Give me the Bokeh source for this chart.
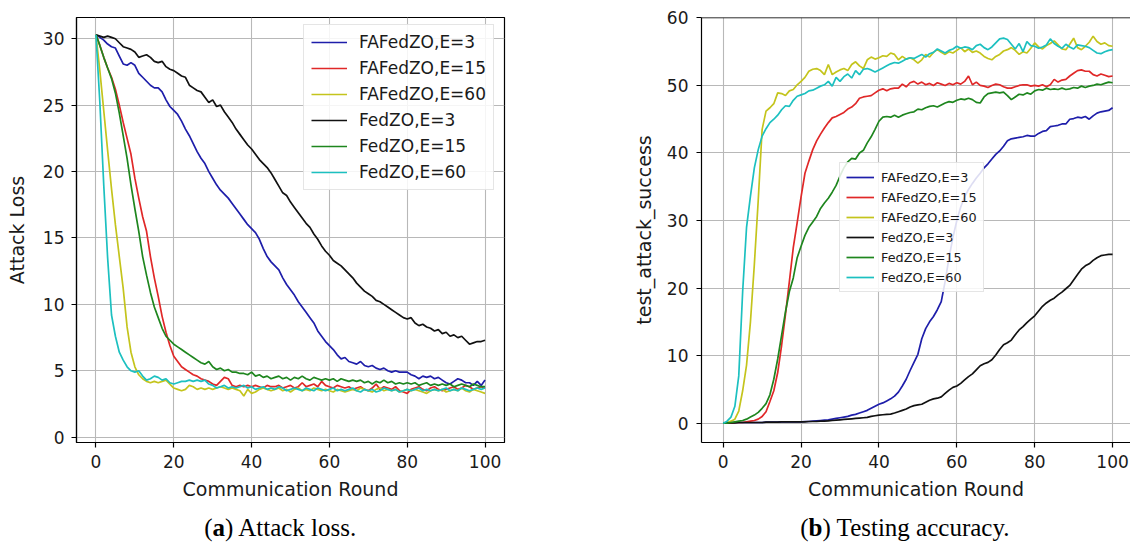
from bokeh.plotting import figure
from bokeh.layouts import row, column
from bokeh.models import Range1d, Label, Span, Legend
from bokeh.embed import file_html
from bokeh.resources import INLINE

rounds = list(range(101))

series_names = ["FAFedZO,E=3", "FAFedZO,E=15", "FAFedZO,E=60", "FedZO,E=3", "FedZO,E=15", "FedZO,E=60"]
series_colors = ["#1e1eaa", "#e02828", "#c4c41c", "#111111", "#1e861e", "#1cc0c0"]

# ---- (a) Attack loss ----
loss_fafedzo_e3 = [30.3, 30.1, 29.9, 29.6, 29.4, 29.3, 28.7, 28.1, 28.0, 28.2,
                   28.0, 27.4, 27.1, 26.8, 26.5, 26.3, 26.3, 26.0, 25.4, 24.9,
                   24.6, 24.3, 23.8, 23.2, 22.7, 22.1, 21.5, 21.0, 20.6, 20.0,
                   19.5, 19.0, 18.6, 18.3, 18.0, 17.6, 17.2, 16.8, 16.4, 16.0,
                   15.7, 15.4, 14.9, 14.2, 13.6, 13.2, 12.9, 12.6, 12.0, 11.5,
                   11.1, 10.7, 10.2, 9.8, 9.4, 9.0, 8.6, 8.0, 7.6, 7.2,
                   6.9, 6.6, 6.2, 5.9, 6.0, 5.7, 5.6, 5.5, 5.7, 5.4,
                   5.3, 5.4, 5.2, 5.1, 5.2, 5.0, 4.9, 5.0, 4.9, 4.9,
                   4.9, 4.7, 4.6, 4.4, 4.6, 4.5, 4.6, 4.4, 4.5, 4.3,
                   4.1, 4.0, 4.2, 4.4, 4.3, 4.1, 4.1, 3.9, 4.2, 3.9, 4.3]
loss_fafedzo_e15 = [30.3, 29.5, 28.6, 27.8, 27.1, 26.2, 25.0, 23.7, 22.5, 21.3,
                    19.5, 18.0, 16.6, 15.5, 13.6, 12.0, 10.6, 9.1, 7.9, 6.9,
                    6.1, 5.7, 5.3, 5.1, 4.9, 4.7, 4.6, 4.4, 4.3, 4.2,
                    4.0, 3.9, 4.2, 4.5, 4.4, 3.9, 3.8, 3.9, 3.8, 3.9,
                    3.8, 3.9, 3.8, 3.7, 3.9, 3.8, 3.8, 3.9, 3.7, 3.8,
                    3.9, 3.7, 3.8, 4.1, 3.8, 3.9, 4.0, 3.8, 4.2, 3.9,
                    3.8, 3.7, 3.9, 3.8, 3.7, 3.8, 3.6, 3.7, 3.8, 3.6,
                    3.5, 3.7, 4.0, 3.6, 3.8, 3.7, 3.6, 3.8, 3.5, 3.4,
                    3.3, 3.6, 3.7, 3.8, 3.6, 3.5, 3.7, 3.8, 3.6, 3.5,
                    3.6, 3.7, 3.8, 3.6, 3.7, 3.9, 3.8, 3.6, 3.7, 3.8, 3.7]
loss_fafedzo_e60 = [30.3, 27.6, 24.6, 21.6, 18.7, 16.0, 13.6, 11.2, 8.3, 6.4,
                    5.3, 4.7, 4.4, 4.2, 4.1, 4.2, 4.1, 4.2, 4.3, 4.0,
                    3.7, 3.6, 3.5, 3.6, 3.9, 3.8, 3.6, 3.7, 3.6, 3.7,
                    3.6, 3.7, 3.8, 3.7, 3.6, 3.7, 3.6, 3.5, 3.1, 3.6,
                    3.3, 3.4, 3.6, 3.7, 3.6, 3.5, 3.6, 3.7, 3.5, 3.6,
                    3.4, 3.6, 3.7, 3.5, 3.6, 3.5, 3.7, 3.6, 3.5, 3.6,
                    3.5, 3.4, 3.6, 3.5, 3.4, 3.5, 3.6, 3.5, 3.7, 3.6,
                    3.5, 3.4, 3.6, 3.7, 3.5, 3.6, 3.5, 3.6, 3.4, 3.5,
                    3.6, 3.5, 3.6, 3.5, 3.4, 3.3, 3.5, 3.6, 3.5, 3.6,
                    3.4, 3.5, 3.6, 3.5, 3.7, 3.5, 3.4, 3.6, 3.5, 3.4, 3.3]
loss_fedzo_e3 = [30.3, 30.2, 30.1, 30.2, 30.1, 30.0, 29.7, 29.4, 29.3, 29.2,
                 29.0, 28.6, 28.7, 28.8, 28.6, 28.3, 28.2, 28.3, 27.9, 27.7,
                 27.6, 27.4, 27.2, 27.1, 26.5, 26.3, 26.1, 26.0, 25.6, 25.2,
                 25.4, 24.9, 25.0, 24.5, 24.1, 23.7, 23.2, 22.8, 22.4, 22.0,
                 21.7, 21.3, 20.9, 20.6, 20.3, 19.9, 19.4, 18.9, 18.4, 18.2,
                 17.7, 17.3, 16.9, 16.5, 16.1, 15.8, 15.3, 14.9, 14.4, 14.0,
                 13.7, 13.3, 13.1, 12.9, 12.6, 12.3, 12.0, 11.6, 11.3, 11.0,
                 10.8, 10.6, 10.3, 10.2, 10.0, 9.8, 9.6, 9.4, 9.2, 9.0,
                 8.9, 9.0, 8.6, 8.4, 8.5, 8.3, 8.2, 8.0, 8.1, 7.8,
                 7.9, 7.6, 7.7, 7.5, 7.6, 7.3, 7.0, 7.1, 7.2, 7.2, 7.3]
loss_fedzo_e15 = [30.3, 29.5, 28.6, 27.8, 27.0, 25.9, 24.4, 22.7, 21.0, 19.0,
                  17.2, 15.5, 13.6, 12.2, 10.9, 9.8, 9.0, 8.2, 7.6, 7.3,
                  7.0, 6.8, 6.6, 6.4, 6.2, 6.0, 5.8, 5.6, 5.5, 5.7,
                  5.3, 5.1, 5.2, 5.0, 5.1, 4.9, 4.9, 4.8, 4.8, 4.7,
                  4.9, 4.6, 4.7, 4.5, 4.6, 4.4, 4.5, 4.6, 4.4, 4.5,
                  4.3, 4.5, 4.4, 4.6, 4.4, 4.3, 4.5, 4.4, 4.3, 4.4,
                  4.3, 4.4, 4.2, 4.4, 4.3, 4.2, 4.3, 4.2, 4.3, 4.1,
                  4.2, 4.0, 4.2, 4.1, 4.3, 4.1, 4.2, 4.0, 4.1, 4.0,
                  4.1, 4.0, 4.1, 3.9, 4.0, 4.1, 3.9, 4.0, 3.9, 4.0,
                  3.9, 4.0, 3.8, 3.9, 4.0, 3.9, 3.8, 4.0, 3.9, 3.8, 3.8]
loss_fedzo_e60 = [30.3, 25.2, 19.0, 13.5, 9.2, 7.6, 6.4, 5.8, 5.3, 5.0,
                  4.9, 5.0, 4.6, 4.3, 4.4, 4.6, 4.5, 4.3, 4.4, 4.1,
                  4.0, 4.1, 4.2, 4.2, 4.3, 4.2, 4.3, 4.2, 4.3, 4.0,
                  3.9, 3.7, 3.8, 3.9, 3.7, 3.8, 3.7, 3.8, 3.9, 3.7,
                  3.8, 3.6, 3.7, 3.8, 3.6, 3.7, 3.6, 3.8, 3.7, 3.5,
                  3.6, 3.7, 3.6, 3.5, 3.7, 3.6, 3.5, 3.7, 3.6, 3.5,
                  3.6, 3.7, 3.5, 3.6, 3.5, 3.6, 3.7, 3.5, 3.4, 3.6,
                  3.5, 3.6, 3.4, 3.5, 3.7, 3.6, 3.5, 3.6, 3.4, 3.5,
                  3.6, 3.5, 3.6, 3.7, 3.5, 3.6, 3.5, 3.6, 3.5, 3.6,
                  3.7, 3.5, 3.6, 3.5, 3.7, 3.6, 3.5, 3.6, 3.7, 3.6, 3.7]

# ---- (b) Testing accuracy ----
acc_fafedzo_e3 = [0.0, 0.05, 0.1, 0.1, 0.1, 0.1, 0.1, 0.1, 0.1, 0.1,
                  0.1, 0.15, 0.15, 0.15, 0.15, 0.2, 0.2, 0.2, 0.2, 0.2,
                  0.2, 0.25, 0.25, 0.3, 0.35, 0.4, 0.45, 0.5, 0.6, 0.7,
                  0.8, 0.9, 1.0, 1.2, 1.3, 1.5, 1.7, 1.9, 2.2, 2.5,
                  2.8, 3.0, 3.3, 3.6, 4.0, 4.6, 5.5, 6.5, 7.8, 9.0,
                  10.2, 12.5, 14.0, 15.0, 15.8, 16.8, 18.0, 21.0, 24.5, 27.5,
                  30.0, 32.0, 33.5, 34.6, 35.5, 36.3, 37.0, 37.8, 38.4, 39.1,
                  39.8, 40.3, 41.0, 41.8, 42.1, 42.2, 42.3, 42.4, 42.6, 42.5,
                  42.5, 42.9, 43.2, 43.3, 43.9, 44.0, 44.1, 44.3, 44.3, 45.0,
                  45.1, 45.3, 45.2, 45.4, 45.0, 45.5, 45.9, 46.1, 46.2, 46.3, 46.7]
acc_fafedzo_e15 = [0.0, 0.0, 0.0, 0.1, 0.1, 0.1, 0.2, 0.3, 0.4, 0.6,
                   1.0, 1.7, 3.2, 4.8, 7.5, 11.5, 16.1, 21.0, 26.0, 29.7,
                   33.5, 37.0, 38.8, 40.5, 41.8, 42.8, 43.7, 44.5, 45.2, 45.4,
                   45.7, 46.0, 46.5, 46.8, 47.3, 48.1, 48.3, 48.4, 48.5, 48.9,
                   49.3, 49.5, 49.2, 49.5, 49.6, 49.6, 50.2, 49.8, 50.4, 50.6,
                   50.2, 50.5, 50.1, 50.3, 50.0, 50.4, 50.2, 50.0, 50.3, 50.1,
                   50.4, 50.2, 50.6, 51.4, 50.1, 50.5, 50.0, 49.9, 49.7, 50.0,
                   50.2, 50.1, 49.8, 49.6, 49.6, 49.8, 50.0, 50.1, 50.1, 49.9,
                   50.0, 49.9, 50.1, 49.8, 50.1, 50.9, 50.5, 50.8, 50.9, 51.4,
                   51.8, 52.2, 52.3, 52.1, 52.1, 51.6, 51.4, 51.7, 51.5, 51.3, 51.4]
acc_fafedzo_e60 = [0.0, 0.1, 0.3, 0.6, 1.8, 4.8, 8.6, 15.0, 23.5, 33.0,
                   43.5, 46.2, 46.7, 47.3, 48.9, 48.8, 48.5, 49.2, 49.4, 50.1,
                   50.6, 51.2, 52.1, 52.4, 52.5, 52.2, 51.6, 53.1, 51.6, 52.0,
                   52.3, 52.5, 52.2, 53.1, 53.5, 52.9, 52.5, 53.8, 54.2, 53.9,
                   54.1, 54.4, 54.3, 54.8, 54.6, 53.8, 54.3, 53.9, 54.1, 53.8,
                   53.3, 53.8, 54.6, 54.2, 54.9, 55.3, 54.9, 54.6, 55.0, 54.8,
                   55.2, 55.6, 55.0, 55.4, 54.9, 55.1, 54.8, 54.3, 54.0, 53.8,
                   54.3, 54.6, 55.1, 55.3, 55.6, 55.2, 54.6, 55.0, 54.8, 55.5,
                   56.3, 55.7, 55.4, 55.9, 56.2, 56.6, 56.0, 55.4, 55.3, 56.1,
                   57.0, 55.6, 55.3, 55.8, 56.4, 57.3, 56.5, 56.1, 56.3, 55.9, 55.8]
acc_fedzo_e3 = [0.0, 0.05, 0.05, 0.05, 0.1, 0.1, 0.1, 0.1, 0.1, 0.1,
                0.1, 0.15, 0.15, 0.15, 0.15, 0.2, 0.2, 0.2, 0.2, 0.2,
                0.2, 0.2, 0.25, 0.25, 0.25, 0.3, 0.3, 0.35, 0.4, 0.45,
                0.5, 0.55, 0.6, 0.65, 0.7, 0.75, 0.8, 0.85, 1.0, 1.1,
                1.2, 1.25, 1.3, 1.35, 1.5, 1.7, 1.9, 2.1, 2.4, 2.6,
                2.7, 2.8, 3.1, 3.4, 3.6, 3.7, 3.9, 4.4, 4.9, 5.3,
                5.5, 5.9, 6.4, 6.9, 7.3, 7.9, 8.5, 8.8, 9.0, 9.4,
                10.1, 10.9, 11.6, 11.9, 12.3, 13.1, 13.8, 14.3, 14.9, 15.4,
                15.9, 16.6, 17.3, 17.8, 18.2, 18.5, 19.0, 19.4, 19.9, 20.4,
                21.2, 22.0, 22.8, 23.3, 23.6, 24.1, 24.5, 24.8, 24.9, 25.0, 25.0]
acc_fedzo_e15 = [0.0, 0.0, 0.1, 0.2, 0.3, 0.4, 0.6, 0.9, 1.2, 1.6,
                 2.2, 2.9, 4.2, 6.5, 9.5, 13.0, 16.5, 19.5, 21.5, 24.5,
                 26.2, 27.8, 29.0, 29.8, 30.6, 31.8, 32.6, 33.3, 34.2, 35.2,
                 36.6, 37.8, 38.7, 39.2, 39.1, 40.0, 40.4, 41.5, 42.4, 43.5,
                 44.7, 45.3, 45.4, 45.3, 45.6, 45.3, 45.6, 45.8, 46.0, 46.1,
                 46.5, 46.4, 46.7, 46.9, 47.0, 46.8, 47.1, 47.4, 47.6, 47.5,
                 47.8, 48.0, 47.9, 48.1, 47.9, 47.5, 47.4, 48.3, 48.8, 48.9,
                 49.0, 48.9, 49.0, 48.5, 47.9, 48.3, 48.7, 48.6, 48.9, 48.7,
                 49.2, 49.4, 49.3, 49.6, 49.4, 49.5, 49.4, 49.6, 49.4, 49.5,
                 49.7, 49.6, 49.9, 49.7, 49.9, 50.0, 50.2, 50.1, 50.3, 50.5, 50.4]
acc_fedzo_e60 = [0.0, 0.3, 0.9, 2.5, 7.0, 19.5, 29.0, 33.6, 37.8, 40.5,
                 42.5, 43.6, 44.5, 45.0, 45.6, 46.4, 47.0, 46.9, 47.8, 48.4,
                 48.6, 48.8, 49.2, 49.3, 49.6, 49.9, 50.1, 50.6, 49.9, 51.2,
                 50.6, 51.3, 51.7, 51.1, 52.2, 51.6, 52.4, 52.5, 52.3, 52.0,
                 52.3, 52.6, 52.9, 53.2, 53.4, 53.3, 53.6, 53.9, 54.1, 54.0,
                 54.3, 54.6, 54.2, 54.7, 54.9, 55.4, 55.1, 54.8, 55.2, 55.4,
                 55.8, 55.5, 55.7, 55.6, 55.3, 55.9, 56.1, 55.6, 55.3, 55.7,
                 56.3, 56.9, 57.0, 56.8, 56.1, 55.4, 56.2, 55.0, 56.5, 55.9,
                 55.8, 55.5, 55.7, 56.0, 56.9, 56.2, 55.8, 55.5, 56.1, 55.7,
                 55.4, 56.0, 55.9, 55.8, 55.6, 55.2, 54.8, 54.7, 55.0, 55.2, 55.3]

loss_series = [loss_fafedzo_e3, loss_fafedzo_e15, loss_fafedzo_e60,
               loss_fedzo_e3, loss_fedzo_e15, loss_fedzo_e60]
acc_series = [acc_fafedzo_e3, acc_fafedzo_e15, acc_fafedzo_e60,
              acc_fedzo_e3, acc_fedzo_e15, acc_fedzo_e60]

x_ticks = [0, 20, 40, 60, 80, 100]
loss_ticks = [0, 5, 10, 15, 20, 25, 30]
acc_ticks = [0, 10, 20, 30, 40, 50, 60]

FONT = "DejaVu Sans"
SERIF = "Liberation Serif"
TXT = "#1a1a1a"


def style(p, ylabel, tick_standoff, label_standoff):
    p.xaxis.ticker = x_ticks
    p.xaxis.axis_label = "Communication Round"
    p.yaxis.axis_label = ylabel
    for ax in (p.xaxis, p.yaxis):
        ax.axis_label_text_font = FONT
        ax.axis_label_text_font_size = "19px"
        ax.axis_label_text_font_style = "normal"
        ax.axis_label_text_color = TXT
        ax.major_label_text_font = FONT
        ax.major_label_text_font_size = "17px"
        ax.major_label_text_color = TXT
        ax.major_tick_in = 0
        ax.major_tick_out = 5
        ax.minor_tick_in = 0
        ax.minor_tick_out = 0
        ax.axis_line_color = "black"
        ax.axis_line_width = 1.2
        ax.major_tick_line_color = "black"
        ax.major_tick_line_width = 1.2
    p.xaxis.major_label_standoff = 7
    p.xaxis.axis_label_standoff = 7
    p.yaxis.major_label_standoff = tick_standoff
    p.yaxis.axis_label_standoff = label_standoff
    p.grid.grid_line_color = "#b8b8b8"
    p.grid.grid_line_width = 1.1
    p.background_fill_color = "white"
    p.border_fill_color = "white"


def make_legend(p, renderers, loc, font_size, gw, gh, standoff, pad, spacing):
    leg = Legend(items=[(n, [r]) for n, r in zip(series_names, renderers)], location=loc)
    leg.label_text_font = FONT
    leg.label_text_font_size = font_size
    leg.label_text_color = TXT
    leg.glyph_width = gw
    leg.glyph_height = gh
    leg.label_height = gh
    leg.label_standoff = standoff
    leg.padding = pad
    leg.spacing = spacing
    leg.margin = 0
    leg.border_line_color = "#cccccc"
    leg.border_line_width = 1
    leg.background_fill_alpha = 0.85
    p.add_layout(leg, "center")


# ---------- left figure ----------
p1 = figure(width=560, height=510, output_backend="svg", toolbar_location=None,
            x_range=Range1d(-5, 105), y_range=Range1d(-0.4, 31.6),
            min_border_left=76, min_border_right=56, min_border_top=17, min_border_bottom=68)
style(p1, "Attack Loss", 7, 12)
p1.yaxis.ticker = loss_ticks
p1.outline_line_color = "black"
p1.outline_line_width = 1.2
p1.outline_line_alpha = 1.0
r1 = []
for ys, c in zip(loss_series, series_colors):
    r1.append(p1.line(rounds, ys, line_color=c, line_width=1.7))
make_legend(p1, r1, (227, 252), "17px", 36, 20, 12, 7, 6)

# ---------- right figure ----------
p2 = figure(width=570, height=510, output_backend="svg", toolbar_location=None,
            x_range=Range1d(-5.57, 104.6), y_range=Range1d(-2.86, 60.06),
            min_border_left=141, min_border_right=0, min_border_top=17, min_border_bottom=68)
style(p2, "test_attack_success", 8, 9)
p2.yaxis.ticker = acc_ticks
p2.outline_line_color = None
p2.add_layout(Span(location=60.06, dimension="width", line_color="black", line_width=1.4))
r2 = []
for ys, c in zip(acc_series, series_colors):
    r2.append(p2.line(rounds, ys, line_color=c, line_width=1.7))
make_legend(p2, r2, (138, 150), "12.8px", 28, 16, 7, 6, 4)

# ---------- captions strip ----------
cap = figure(width=1130, height=33, output_backend="svg", toolbar_location=None,
             x_range=Range1d(0, 1130), y_range=Range1d(33, 0),
             x_axis_type=None, y_axis_type=None,
             min_border_left=0, min_border_right=0, min_border_top=0, min_border_bottom=0)
cap.outline_line_color = None
cap.background_fill_color = "white"
cap.border_fill_color = "white"


def add_caption(fig, x_letter, letter, rest, letter_w, base=17):
    common = dict(y=base, text_baseline="alphabetic", text_font=SERIF,
                  text_font_size="25px", text_color="black")
    fig.add_layout(Label(x=x_letter, text="(", text_align="right", **common))
    fig.add_layout(Label(x=x_letter, text=letter, text_align="left",
                         text_font_style="bold", **common))
    fig.add_layout(Label(x=x_letter + letter_w, text=rest, text_align="left", **common))


add_caption(cap, 212, "a", ") Attack loss.", 12.5)
add_caption(cap, 808, "b", ") Testing accuracy.", 14)

layout = column(row(p1, p2, spacing=0), cap, spacing=0)
open("out.html", "w").write(file_html(layout, INLINE))
